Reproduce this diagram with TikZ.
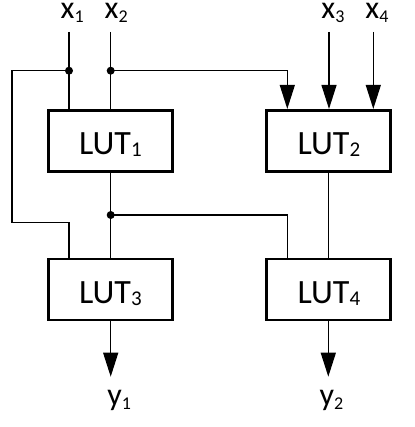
\documentclass[tikz,border=0pt]{standalone}
\usepackage{fontspec}
\setmainfont{Carlito}
\usetikzlibrary{arrows.meta,calc}
\newcommand\lutsub[1]{\raisebox{-2.4pt}{\fontsize{21}{21}\selectfont #1}}
\newcommand\xsub[1]{\raisebox{-4.6pt}{\fontsize{18}{18}\selectfont #1}}
\tikzset{
  lut/.style={draw, line width=2.8pt, minimum width=124pt, minimum height=61pt, inner sep=0pt,
    text height=27pt, text depth=0pt, font=\fontsize{34}{34}\selectfont},
  lbl/.style={anchor=base west, inner sep=0pt, text height=15pt, text depth=0pt, font=\fontsize{32}{32}\selectfont},
  wire/.style={line width=1.3pt},
  arr/.style={wire, -{Triangle[width=15pt,length=24pt]}},
  dot/.style={circle, fill=black, inner sep=0pt, minimum size=8pt}
}
\begin{document}
\begin{tikzpicture}[x=1pt,y=-1pt]
\useasboundingbox (0,0) rectangle (414,427);
% boxes
\node[lut] (l1) at (110.35,140.85) {LUT\lutsub{1}};
\node[lut] (l2) at (328.85,140.85) {LUT\lutsub{2}};
\node[lut] (l3) at (110.35,289.5) {LUT\lutsub{3}};
\node[lut] (l4) at (328.85,289.5) {LUT\lutsub{4}};
% labels
\node[lbl] (x1) at (60.5,18.3) {x\xsub{1}};
\node[lbl] (x2) at (104.5,18.3) {x\xsub{2}};
\node[lbl] (x3) at (321.2,18.3) {x\xsub{3}};
\node[lbl] (x4) at (365.2,18.3) {x\xsub{4}};
\node[lbl] (y1) at (107.2,405) {y\xsub{1}};
\node[lbl] (y2) at (319.5,405) {y\xsub{2}};
% wire end points
\coordinate (t1) at (69,32);
\coordinate (t2) at (110.7,32);
\coordinate (t3) at (329,32);
\coordinate (t4) at (373.3,32);
\coordinate (o1) at (110.7,376.7);
\coordinate (o2) at (328.3,376.7);
\node[dot] (d1) at (69,70.7) {};
\node[dot] (d2) at (110.7,70.7) {};
\node[dot] (d3) at (110.7,215) {};
% wires
\draw[wire] (t1) -- (d1.center) -- (d1.center |- l1.north);
\draw[wire] (t2) -- (d2.center) -- (d2.center |- l1.north);
\draw[wire] (d1.center) -- (12,70.7) -- (12,222.3) -- (69,222.3) -- (69,0 |- l3.north);
\draw[arr] (d2.center) -- (287.3,70.7) -- (287.3,0 |- l2.north);
\draw[arr] (t3) -- (t3 |- l2.north);
\draw[arr] (t4) -- (t4 |- l2.north);
\draw[wire] (l1.south -| d3.center) -- (d3.center) -- (d3.center |- l3.north);
\draw[wire] (d3.center) -- (287.3,215) -- (287.3,0 |- l4.north);
\draw[wire] (328.3,0 |- l2.south) -- (328.3,0 |- l4.north);
\draw[arr] (o1 |- l3.south) -- (o1);
\draw[arr] (o2 |- l4.south) -- (o2);
\end{tikzpicture}
\end{document}
